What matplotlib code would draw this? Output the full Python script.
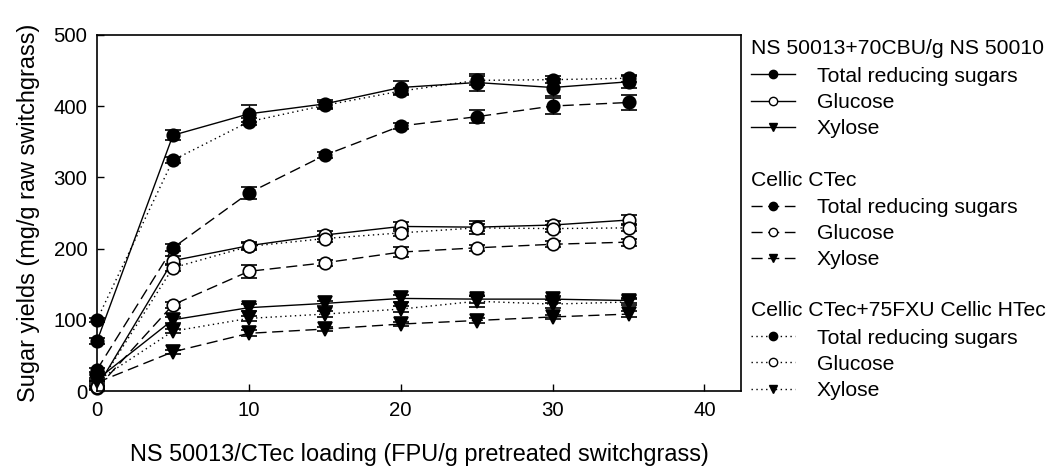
import matplotlib.pyplot as plt
from matplotlib.lines import Line2D
import numpy as np

plt.rcParams['font.family'] = ['Liberation Sans', 'DejaVu Sans']

loading = [0, 5, 10, 15, 20, 25, 30, 35]

# NS 50013 + 70CBU/g NS 50010 (solid)
ns_trs = [70, 359, 389, 403, 426, 433, 426, 434]
ns_trs_err = [4, 7, 12, 6, 9, 12, 12, 8]
ns_glc = [5, 183, 204, 219, 231, 230, 233, 240]
ns_glc_err = [2, 6, 5, 6, 6, 9, 5, 7]
ns_xyl = [16, 100, 117, 123, 130, 129, 129, 127]
ns_xyl_err = [2, 4, 5, 4, 5, 5, 5, 4]

# Cellic CTec (dashed)
ct_trs = [30, 201, 278, 331, 372, 385, 400, 405]
ct_trs_err = [3, 5, 8, 4, 4, 9, 11, 10]
ct_glc = [4, 121, 168, 180, 195, 201, 206, 209]
ct_glc_err = [2, 4, 9, 4, 7, 4, 4, 5]
ct_xyl = [12, 55, 81, 87, 94, 99, 104, 108]
ct_xyl_err = [2, 3, 4, 3, 3, 3, 3, 4]

# Cellic CTec + 75FXU Cellic HTec (dotted)
ch_trs = [100, 324, 378, 401, 421, 436, 437, 439]
ch_trs_err = [3, 4, 5, 5, 5, 6, 5, 5]
ch_glc = [5, 173, 203, 214, 222, 229, 228, 229]
ch_glc_err = [2, 5, 5, 5, 5, 5, 5, 5]
ch_xyl = [14, 84, 102, 108, 115, 126, 122, 125]
ch_xyl_err = [2, 3, 4, 4, 4, 8, 6, 4]

groups = [
    ('NS 50013+70CBU/g NS 50010', '-', [ns_trs, ns_glc, ns_xyl], [ns_trs_err, ns_glc_err, ns_xyl_err]),
    ('Cellic CTec', (0, (8, 4)), [ct_trs, ct_glc, ct_xyl], [ct_trs_err, ct_glc_err, ct_xyl_err]),
    ('Cellic CTec+75FXU Cellic HTec', (0, (1, 2.5)), [ch_trs, ch_glc, ch_xyl], [ch_trs_err, ch_glc_err, ch_xyl_err]),
]
names = ['Total reducing sugars', 'Glucose', 'Xylose']
markers = [('o', 'black'), ('o', 'white'), ('v', 'black')]

fig = plt.figure(figsize=(10.59, 4.70), dpi=100)
ax = fig.add_axes([0.0916, 0.168, 0.608, 0.758])

for title, ls, series, errs in groups:
    for vals, err, (m, fc) in zip(series, errs, markers):
        ax.errorbar(loading, vals, yerr=err, color='black', linestyle=ls, linewidth=1,
                    marker=m, markersize=9 if m == 'o' else 10, markerfacecolor=fc,
                    markeredgecolor='black', markeredgewidth=1.2,
                    ecolor='black', elinewidth=1, capsize=6, capthick=1, clip_on=False)

ax.set_xlim(0, 42.4)
ax.set_ylim(0, 500)
ax.set_xticks([0, 10, 20, 30, 40])
ax.set_yticks([0, 100, 200, 300, 400, 500])
ax.tick_params(direction='in', length=5, width=1, labelsize=14.7, pad=7)
for s in ax.spines.values():
    s.set_linewidth(1.2)
ax.set_xlabel('NS 50013/CTec loading (FPU/g pretreated switchgrass)', fontsize=16.9, labelpad=17)
ax.set_ylabel('Sugar yields (mg/g raw switchgrass)', fontsize=16.9, labelpad=10)

# three grouped legends on the right
tops = [0.916, 0.637, 0.359]
for (title, ls, series, errs), top in zip(groups, tops):
    handles = []
    for m, fc in markers:
        handles.append(Line2D([], [], color='black', linestyle=ls, linewidth=1,
                              marker=m, markersize=6, markerfacecolor=fc,
                              markeredgecolor='black'))
    leg = fig.legend(handles, names, title=title, loc='upper left',
                     bbox_to_anchor=(0.709, top), frameon=False, fontsize=15.2,
                     title_fontsize=15.2, alignment='left', handlelength=2.07,
                     handletextpad=1.05, labelspacing=0.34, borderpad=0,
                     borderaxespad=0)
    leg._legend_box.sep = 6

fig.savefig('out.png', dpi=100)
